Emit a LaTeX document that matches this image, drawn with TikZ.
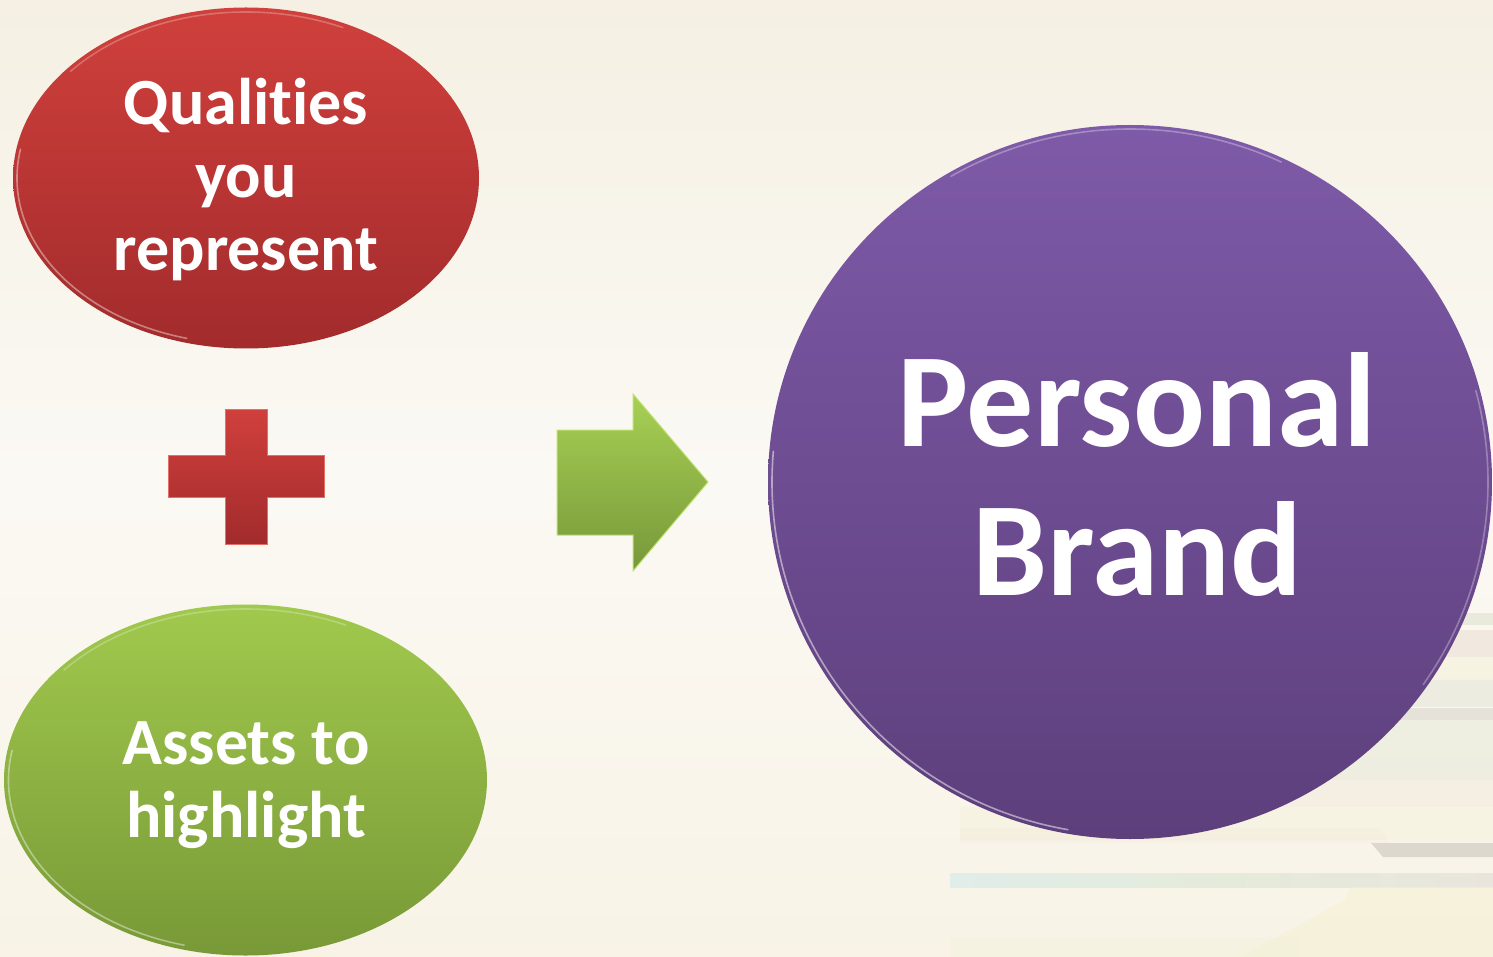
\documentclass[tikz,border=0pt]{standalone}
\usepackage{fontspec}
\setmainfont[Ligatures={NoCommon}]{Carlito}
\usetikzlibrary{shapes.geometric}
\definecolor{bgA}{HTML}{F5F0E3}
\definecolor{bgB}{HTML}{FBF9F4}
\definecolor{bgC}{HTML}{F8F3E6}
\definecolor{redtop}{HTML}{D0403C}
\definecolor{redbot}{HTML}{A22B2C}
\definecolor{greentop}{HTML}{A1C94D}
\definecolor{greenbot}{HTML}{789937}
\definecolor{purptop}{HTML}{7E5AA8}
\definecolor{purpbot}{HTML}{5D3F7C}
\definecolor{arrtop}{HTML}{A8D054}
\definecolor{arrbot}{HTML}{77983A}
\tikzset{
  blob/.style={ellipse, inner sep=0pt, draw=none},
  lbl/.style={text=white, align=center, inner sep=0pt,
    font=\bfseries\fontsize{66}{73}\selectfont},
  biglbl/.style={text=white, align=center, inner sep=0pt,
    font=\bfseries\fontsize{134}{149}\selectfont},
  rim/.style={white, line width=1.6pt, opacity=0.4, line cap=round},
  stripe/.style={draw=none, fill opacity=0.55}
}
\begin{document}
\begin{tikzpicture}[x=1pt,y=-1pt]
% background
\shade[top color=bgA, bottom color=bgC, middle color=bgB] (0,0) rectangle (1493,957);
\useasboundingbox (0,0) rectangle (1493,957);
% faint stripes bottom right
\fill[stripe, fill={rgb,255:red,220;green,222;blue,205}] (1380,613) rectangle (1493,625);
\fill[stripe, fill={rgb,255:red,234;green,220;blue,211}] (1300,630) rectangle (1493,657);
\fill[stripe, fill={rgb,255:red,244;green,240;blue,218}] (1300,657) rectangle (1493,680);
\fill[stripe, fill={rgb,255:red,226;green,231;blue,214}] (1300,680) rectangle (1493,707);
\fill[stripe, fill={rgb,255:red,216;green,211;blue,201}] (1400,708) rectangle (1493,720);
\fill[stripe, fill={rgb,255:red,229;green,232;blue,216}] (1300,720) rectangle (1493,780);
\fill[stripe, fill={rgb,255:red,240;green,227;blue,214}, fill opacity=0.35] (1000,780) rectangle (1493,807);
\fill[stripe, fill={rgb,255:red,246;green,240;blue,214}, fill opacity=0.35] (960,807) rectangle (1493,840);
\fill[stripe, fill={rgb,255:red,243;green,232;blue,220}, fill opacity=0.3] (960,828) -- (1380,828) -- (1390,843) -- (960,843) -- cycle;
\fill[stripe, fill={rgb,255:red,214;green,210;blue,200}, fill opacity=0.8] (1371,843) -- (1493,843) -- (1493,857) -- (1383,857) -- cycle;
\shade[left color={rgb,255:red,218;green,236;blue,233}, right color={rgb,255:red,230;green,226;blue,218}, middle color={rgb,255:red,224;green,233;blue,216}, opacity=0.8] (950,873) rectangle (1493,887);
\fill[stripe, fill={rgb,255:red,246;green,241;blue,210}] (1350,887) -- (1493,887) -- (1493,957) -- (1240,957) -- (1345,900) -- cycle;
\fill[stripe, fill={rgb,255:red,243;green,241;blue,220}, fill opacity=0.4] (950,937) rectangle (1300,957);
% shapes
\node[blob, minimum width=466pt, minimum height=341pt, top color=redtop, bottom color=redbot] (qual) at (246,178) {};
\node[blob, minimum width=483pt, minimum height=351pt, top color=greentop, bottom color=greenbot] (asset) at (245.5,780) {};
\node[blob, minimum width=724pt, minimum height=714pt, top color=purptop, bottom color=purpbot] (brand) at (1130,482) {};
% rim highlights
\draw[rim] (qual.center) ++(105:229 and 166) arc[start angle=105, end angle=190, x radius=229, y radius=166];
\draw[rim, opacity=0.25] (qual.center) ++(220:229 and 166) arc[start angle=220, end angle=295, x radius=229, y radius=166];
\draw[rim] (asset.center) ++(105:237 and 171) arc[start angle=105, end angle=190, x radius=237, y radius=171];
\draw[rim, opacity=0.25] (asset.center) ++(220:237 and 171) arc[start angle=220, end angle=295, x radius=237, y radius=171];
\draw[rim, opacity=0.5] (brand.center) ++(100:358 and 353) arc[start angle=100, end angle=185, x radius=358, y radius=353];
\draw[rim, opacity=0.3] (brand.center) ++(240:358 and 353) arc[start angle=240, end angle=295, x radius=358, y radius=353];
\draw[rim, opacity=0.3] (brand.center) ++(-15:358 and 353) arc[start angle=-15, end angle=35, x radius=358, y radius=353];
% plus
\shade[top color=redtop, bottom color=redbot, draw={rgb,255:red,230;green,110;blue,105}, line width=1pt]
  (225,409) -- (267,409) -- (267,455) -- (324,455) -- (324,497) -- (267,497) -- (267,544) -- (225,544)
  -- (225,497) -- (168,497) -- (168,455) -- (225,455) -- cycle;
\coordinate (plus) at (246,476);
% arrow
\shade[top color=arrtop, bottom color=arrbot, draw={rgb,255:red,190;green,225;blue,110}, line width=1pt]
  (557,430) -- (633,430) -- (633,394) -- (708,482) -- (633,571) -- (633,535) -- (557,535) -- cycle;
\coordinate (arrow) at (632,482);
% labels
\node[lbl] (qualt) at (246,180) {Qualities\\you\\represent};
\node[lbl] (assett) at (246,785) {Assets to\\highlight};
\node[biglbl] (brandt) at (1137,474) {Personal\\Brand};
\end{tikzpicture}
\end{document}
